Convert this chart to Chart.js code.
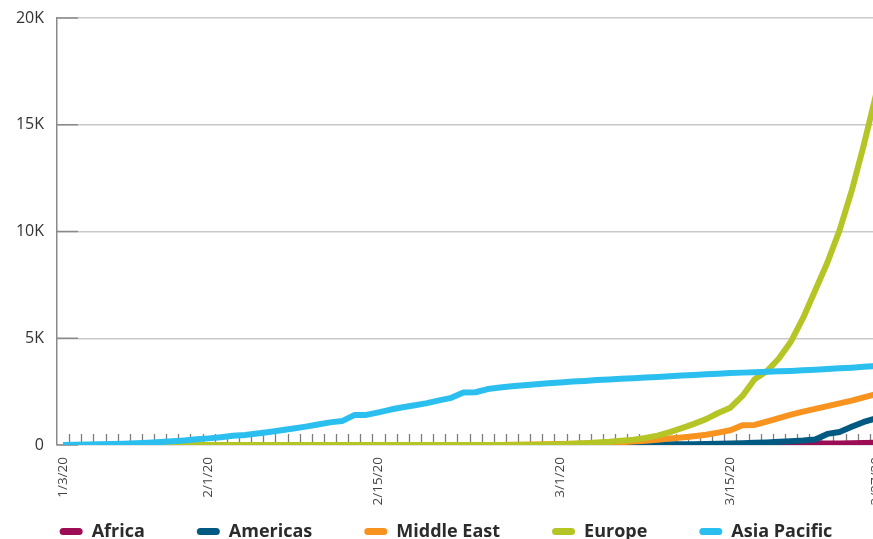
<!DOCTYPE html>
<html>
<head>
<meta charset="utf-8">
<script src="https://cdn.jsdelivr.net/npm/chart.js@4"></script>
<style>
  html, body { margin: 0; padding: 0; background: #fff; overflow: hidden; }
  #wrap { width: 892px; height: 539px; }
</style>
</head>
<body>
<div id="wrap"><canvas id="c" width="892" height="539"></canvas></div>
<script>
const categories = ['1/3/20',
  '1/21/20','1/22/20','1/23/20','1/24/20','1/25/20','1/26/20','1/27/20','1/28/20','1/29/20','1/30/20','1/31/20',
  '2/1/20','2/2/20','2/3/20','2/4/20','2/5/20','2/6/20','2/7/20','2/8/20','2/9/20','2/10/20','2/11/20','2/12/20','2/13/20','2/14/20',
  '2/15/20','2/16/20','2/17/20','2/18/20','2/19/20','2/20/20','2/21/20','2/22/20','2/23/20','2/24/20','2/25/20','2/26/20','2/27/20','2/28/20','2/29/20',
  '3/1/20','3/2/20','3/3/20','3/4/20','3/5/20','3/6/20','3/7/20','3/8/20','3/9/20','3/10/20','3/11/20','3/12/20','3/13/20','3/14/20',
  '3/15/20','3/16/20','3/17/20','3/18/20','3/19/20','3/20/20','3/21/20','3/22/20','3/23/20','3/24/20','3/25/20','3/26/20','3/27/20'];

const tickLabels = ['1/3/20','2/1/20','2/15/20','3/1/20','3/15/20','3/27/20'];

const africa = [0,
  0,0,0,0,0,0,0,0,0,0,0,
  0,0,0,0,0,0,0,0,0,0,0,0,0,0,
  0,0,0,0,0,0,0,0,0,0,0,0,0,0,0,
  0,1,1,1,2,2,2,2,2,3,4,5,6,8,
  10,15,25,35,45,55,60,65,70,75,80,90,100];

const americas = [0,
  0,0,0,0,0,0,0,0,0,0,0,
  0,0,0,0,0,0,0,0,0,0,0,0,0,0,
  0,0,0,0,0,0,0,0,0,0,0,0,0,0,1,
  2,6,9,11,12,15,19,22,26,30,35,40,48,55,
  65,80,100,120,150,180,210,260,520,610,850,1080,1250];

const middleEast = [0,
  0,0,0,0,0,0,0,0,0,0,0,
  0,0,0,0,0,0,0,0,0,0,0,0,0,0,
  0,0,0,0,0,0,0,0,0,2,4,8,15,22,35,
  50,60,75,95,110,130,160,200,250,300,350,410,480,580,
  690,930,940,1100,1260,1420,1560,1690,1820,1950,2080,2230,2380];

const europe = [0,
  0,0,0,0,0,0,0,0,0,0,0,
  0,0,0,0,0,0,0,0,0,0,0,0,0,0,
  0,0,0,0,0,0,0,0,0,0,3,5,10,15,22,
  35,55,85,115,150,200,250,330,440,600,790,990,1210,1500,
  1750,2300,3080,3450,4050,4850,5950,7250,8550,10050,11900,14050,16400];

const asiaPacific = [0,
  10,20,30,45,60,85,110,140,175,215,265,
  310,365,430,470,540,610,690,770,860,960,1060,1120,1400,1410,
  1530,1660,1770,1860,1960,2090,2210,2460,2470,2620,2690,2750,2800,2850,2890,
  2930,2970,3000,3040,3070,3100,3130,3160,3190,3220,3250,3280,3310,3340,
  3370,3390,3410,3430,3450,3470,3500,3530,3560,3590,3620,3660,3700];

const seriesNames = ['Africa','Americas','Middle East','Europe','Asia Pacific'];
const seriesColors = ['#9c0d55','#005a82','#f7931e','#b6c526','#2bbff0'];
const seriesData = [africa, americas, middleEast, europe, asiaPacific];

const innerTicks = {
  id: 'innerTicks',
  beforeDatasetsDraw(chart) {
    const { ctx, chartArea, scales: { x, y } } = chart;
    ctx.save();
    ctx.strokeStyle = '#7d7d7d';
    ctx.lineWidth = 1.3;
    const half = (x.getPixelForValue(1) - x.getPixelForValue(0)) / 2;
    for (let i = 0; i < categories.length; i++) {
      const px = Math.round(x.getPixelForValue(i) + half) + 0.5;
      ctx.beginPath();
      ctx.moveTo(px, chartArea.bottom);
      ctx.lineTo(px, chartArea.bottom - 11);
      ctx.stroke();
    }
    ctx.strokeStyle = '#8a8a8a';
    ctx.lineWidth = 1.5;
    y.ticks.forEach(t => {
      const py = y.getPixelForValue(t.value);
      ctx.beginPath();
      ctx.moveTo(chartArea.left, py);
      ctx.lineTo(chartArea.left + 21, py);
      ctx.stroke();
    });
    ctx.restore();
  }
};

const drawOrder = [4, 3, 2, 1, 0];

new Chart(document.getElementById('c'), {
  type: 'line',
  data: {
    labels: categories,
    datasets: seriesNames.map((name, i) => ({
      label: name,
      data: seriesData[i],
      borderColor: seriesColors[i],
      backgroundColor: seriesColors[i],
      borderWidth: 6,
      pointRadius: 0,
      tension: 0,
      fill: false,
      borderJoinStyle: 'round',
      order: drawOrder[i]
    }))
  },
  options: {
    responsive: false,
    animation: false,
    layout: { padding: { left: 0, right: 0, top: 18, bottom: 0 } },
    plugins: {
      tooltip: { enabled: false },
      legend: {
        position: 'bottom',
        maxHeight: 68.5,
        labels: {
          sort: (a, b) => a.datasetIndex - b.datasetIndex,
          boxWidth: 23,
          boxHeight: 7,
          useBorderRadius: true,
          borderRadius: 3.5,
          padding: 52,
          color: '#2b2b2b',
          font: { family: 'Open Sans', size: 18, weight: '700' },
          generateLabels(chart) {
            const items = Chart.defaults.plugins.legend.labels.generateLabels(chart);
            items.forEach(it => { it.lineWidth = 0; it.fillStyle = seriesColors[it.datasetIndex]; it.strokeStyle = seriesColors[it.datasetIndex]; });
            return items;
          }
        }
      }
    },
    scales: {
      x: {
        offset: true,
        afterFit(scale) {
          scale.height = 25.5;
          scale.paddingLeft = 0;
          scale.paddingRight = 10;
          scale._computeLabelArea = () => undefined;
        },
        grid: { display: false, drawTicks: false },
        border: { display: false },
        ticks: {
          autoSkip: false,
          minRotation: 90,
          maxRotation: 90,
          padding: 12,
          color: '#444',
          font: { family: 'Open Sans', size: 13.5 },
          callback: function (value, index) {
            const lab = categories[index];
            return tickLabels.includes(lab) ? lab : '';
          }
        }
      },
      y: {
        min: 0,
        max: 20000,
        afterFit(scale) { scale.width = 57; scale.paddingTop = 0; scale.paddingBottom = 0; },
        grid: { color: '#c9c9c9', lineWidth: 1.5, drawTicks: false },
        border: { display: true, color: '#8a8a8a', width: 1.5 },
        ticks: {
          stepSize: 5000,
          padding: 13,
          color: '#333',
          font: { family: 'Open Sans', size: 16 },
          callback: v => v === 0 ? '0' : (v / 1000) + 'K'
        }
      }
    }
  },
  plugins: [innerTicks]
});
</script>
</body>
</html>
